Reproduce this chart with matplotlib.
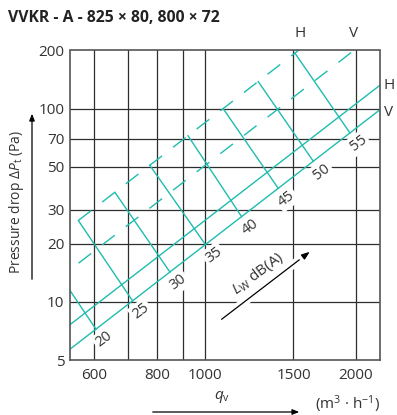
import matplotlib
matplotlib.use("Agg")
import matplotlib.pyplot as plt
import matplotlib.patheffects as pe

plt.rcParams['font.family'] = ['Open Sans', 'DejaVu Sans']
plt.rcParams['mathtext.fontset'] = 'custom'
plt.rcParams['mathtext.rm'] = 'Open Sans'
plt.rcParams['mathtext.it'] = 'Open Sans:italic'
plt.rcParams['lines.scale_dashes'] = False

# axis ticks / grid
q_ticks = [600, 800, 1000, 1500, 2000]
q_grid = [600, 700, 800, 900, 1000, 1500, 2000]
p_ticks = [5, 10, 20, 30, 50, 70, 100, 200]
p_grid = [10, 20, 30, 50, 70, 100]

# pressure-drop lines (end points, m3/h -> Pa)
q_curve = [500, 2300]
p_h_solid = [6.63, 140.2]
p_v_solid = [4.95, 104.7]
p_h_dash = [21.25, 449.7]
p_v_dash = [12.75, 269.8]

# sound power lines L_W dB(A): from H dashed line down to V solid line
lw_levels = [20, 25, 30, 35, 40, 45, 50, 55]
q_top = [471, 557, 659, 774, 923, 1085, 1275, 1510]
p_top = [18.86, 26.37, 36.91, 50.92, 72.41, 100.06, 138.18, 193.81]
q_bot = [604, 715, 849, 1000, 1181, 1398, 1643, 1945]
p_bot = [7.22, 10.12, 14.27, 19.8, 27.62, 38.70, 53.45, 74.90]

TEAL = '#1fbcae'
GRID = '#2e2e2e'
TXT = '#333333'

W, H = 397, 415
fig = plt.figure(figsize=(W / 100, H / 100), dpi=100)
ax = fig.add_axes([70 / W, 1 - 360 / H, 310 / W, 309.5 / H])
ax.set_xscale('log')
ax.set_yscale('log')
ax.set_xlim(536, 2234)
ax.set_ylim(5, 200)

for q in q_grid:
    ax.axvline(q, color=GRID, lw=0.9, zorder=1)
for p in p_grid:
    ax.axhline(p, color=GRID, lw=0.9, zorder=1)

for s in ax.spines.values():
    s.set_color('#555555')
    s.set_linewidth(1.2)

ax.set_xticks(q_ticks)
ax.set_xticklabels([str(v) for v in q_ticks])
ax.set_yticks(p_ticks)
ax.set_yticklabels([str(v) for v in p_ticks])
ax.minorticks_off()
ax.tick_params(length=0, labelsize=11, labelcolor=TXT)
ax.tick_params(axis='x', pad=5.5)
ax.tick_params(axis='y', pad=4)

ax.plot(q_curve, p_h_solid, color=TEAL, lw=1.0, zorder=2)
ax.plot(q_curve, p_v_solid, color=TEAL, lw=1.0, zorder=2)
ax.plot(q_curve, p_h_dash, color=TEAL, lw=1.0, dashes=(11.5, 10), zorder=2)
ax.plot(q_curve, p_v_dash, color=TEAL, lw=1.0, dashes=(11.5, 10), zorder=2)

for lv, qt, pt, qb, pb in zip(lw_levels, q_top, p_top, q_bot, p_bot):
    ax.plot([qt, qb], [pt, pb], color=TEAL, lw=1.0, zorder=2)
    ax.annotate(str(lv), (qb, pb), xytext=(6, -7.5), textcoords='offset points',
                ha='center', va='center', rotation=37, fontsize=10.5, color=TXT,
                bbox=dict(boxstyle='square,pad=0.15', fc='white', ec='none'), zorder=4)

# H / V labels
ax.text(1545, 1.03, 'H', transform=ax.get_xaxis_transform(), ha='center', va='bottom',
        fontsize=11, color=TXT)
ax.text(1980, 1.03, 'V', transform=ax.get_xaxis_transform(), ha='center', va='bottom',
        fontsize=11, color=TXT)
ax.text(1.012, 132, 'H', transform=ax.get_yaxis_transform(), ha='left', va='center',
        fontsize=11, color=TXT)
ax.text(1.012, 96, 'V', transform=ax.get_yaxis_transform(), ha='left', va='center',
        fontsize=11, color=TXT)

# L_W dB(A) arrow
ax.annotate('', xy=(0.774, 0.35), xytext=(0.489, 0.1315), xycoords='axes fraction',
            arrowprops=dict(arrowstyle='-|>,head_length=0.5,head_width=0.18', color='black',
                            lw=0.9, shrinkA=0, shrinkB=0,
                            path_effects=[pe.withStroke(linewidth=6, foreground='white')]),
            zorder=4)
ax.text(0.606, 0.281, r'$L_{\mathrm{W}}$ dB(A)', transform=ax.transAxes, rotation=37,
        ha='center', va='center', fontsize=11, color=TXT, zorder=4,
        bbox=dict(boxstyle='square,pad=0.1', fc='white', ec='none'))

# title
fig.text(8 / W, 1 - 18 / H, 'VVKR - A - 825 × 80, 800 × 72', fontsize=11.3, fontweight='bold',
         color='#222222', ha='left', va='center')

# axis labels with arrows
fig.text(17 / W, 1 - 202 / H, r'Pressure drop $\Delta P_{\mathrm{t}}$ (Pa)', rotation=90,
         ha='center', va='center', fontsize=10, color=TXT)
fig.add_artist(matplotlib.patches.FancyArrowPatch(
    (32 / W, 1 - 282 / H), (32 / W, 1 - 111 / H), transform=fig.transFigure,
    arrowstyle='-|>,head_length=4,head_width=1.6', color='black', lw=0.9))

fig.text(222 / W, 1 - 397 / H, r'$q_{\mathrm{v}}$', ha='center', va='center',
         fontsize=11, color=TXT)
fig.text(380 / W, 1 - 404 / H, r'(m$^3$ · h$^{-1}$)', ha='right', va='center',
         fontsize=11, color=TXT)
fig.add_artist(matplotlib.patches.FancyArrowPatch(
    (150 / W, 1 - 412 / H), (302 / W, 1 - 412 / H), transform=fig.transFigure,
    arrowstyle='-|>,head_length=4,head_width=1.6', color='black', lw=0.9))

fig.savefig('out.png', dpi=100)
